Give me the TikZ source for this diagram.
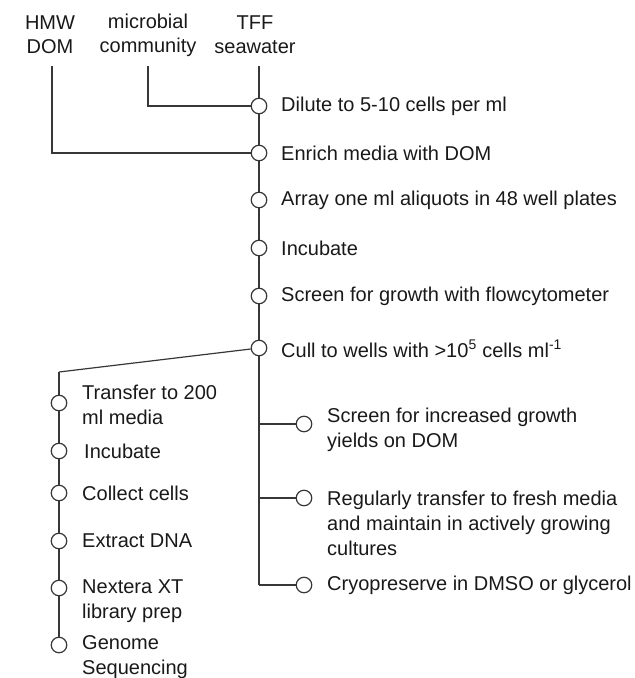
\documentclass[tikz,border=0pt]{standalone}
\usepackage{fontspec}
\setmainfont{Liberation Sans}
\definecolor{ln}{RGB}{55,55,55}
\definecolor{tx}{RGB}{25,25,25}
\begin{document}
\begin{tikzpicture}[x=1pt,y=-1pt]
\tikzset{
  dot/.style={circle, draw=ln, fill=white, line width=1.2pt, minimum size=15.5pt, inner sep=0pt},
  lbl/.style={anchor=west, text=tx, font=\fontsize{20}{25}\selectfont, align=left, inner sep=0pt},
  hdr/.style={text=tx, font=\fontsize{20}{24}\selectfont, align=center, inner sep=0pt},
  conn/.style={draw=ln, line width=1.2pt}
}
\useasboundingbox (0,0) rectangle (635,678);
% headers
\node[hdr] (hmw) at (50,35) {HMW\\DOM};
\node[hdr] (mic) at (148,35) {microbial\\community};
\node[hdr] (tff) at (255,35) {TFF\\seawater};
\coordinate (th) at (52,66);
\coordinate (tm) at (148,66);
\coordinate (tt) at (259,66);
% main circles
\node[dot] (d1) at (259,106) {};
\node[dot] (d2) at (259,153) {};
\node[dot] (d3) at (259,200) {};
\node[dot] (d4) at (259,248) {};
\node[dot] (d5) at (259,296) {};
\node[dot] (d6) at (259,348) {};
\node[lbl] (t1) at (281,106) {Dilute to 5-10 cells per ml};
\node[lbl] (t2) at (281,153) {Enrich media with DOM};
\node[lbl] (t3) at (281,200) {Array one ml aliquots in 48 well plates};
\node[lbl] (t4) at (281,248) {Incubate};
\node[lbl] (t5) at (281,296) {Screen for growth with flowcytometer};
\node[lbl] (t6) at (281,349) {Cull to wells with >10\textsuperscript{5} cells ml\textsuperscript{-1}};
% left branch
\coordinate (lc) at (59,372);
\node[dot] (l1) at (59,403) {};
\node[dot] (l2) at (59,451) {};
\node[dot] (l3) at (59,493) {};
\node[dot] (l4) at (59,541) {};
\node[dot] (l5) at (59,588) {};
\node[dot] (l6) at (59,645) {};
\node[lbl] (u1) at (82,405) {Transfer to 200\\ml media};
\node[lbl] (u2) at (84,451) {Incubate};
\node[lbl] (u3) at (82,493) {Collect cells};
\node[lbl] (u4) at (82,541) {Extract DNA};
\node[lbl] (u5) at (82,601) {Nextera XT\\library prep};
\node[lbl] (u6) at (82,657) {Genome\\Sequencing};
% right branch
\coordinate (c1) at (259,424);
\coordinate (c2) at (259,498);
\coordinate (c3) at (259,585);
\node[dot] (r1) at (304,424) {};
\node[dot] (r2) at (304,498) {};
\node[dot] (r3) at (304,585) {};
\node[lbl] (v1) at (327,430) {Screen for increased growth\\yields on DOM};
\node[lbl] (v2) at (327,523) {Regularly transfer to fresh media\\and maintain in actively growing\\cultures};
\node[lbl] (v3) at (327,585) {Cryopreserve in DMSO or glycerol};
% connectors
\draw[conn] (tt) -- (d1);
\draw[conn] (tm) |- (d1);
\draw[conn] (th) |- (d2);
\draw[conn] (d1) -- (d2);
\draw[conn] (d2) -- (d3);
\draw[conn] (d3) -- (d4);
\draw[conn] (d4) -- (d5);
\draw[conn] (d5) -- (d6);
\draw[conn] (d6) -- (c3);
\draw[conn] (c1) -- (r1);
\draw[conn] (c2) -- (r2);
\draw[conn] (c3) -- (r3);
\draw[conn] (d6) -- (lc);
\draw[conn] (lc) -- (l1);
\draw[conn] (l1) -- (l2);
\draw[conn] (l2) -- (l3);
\draw[conn] (l3) -- (l4);
\draw[conn] (l4) -- (l5);
\draw[conn] (l5) -- (l6);
\end{tikzpicture}
\end{document}
